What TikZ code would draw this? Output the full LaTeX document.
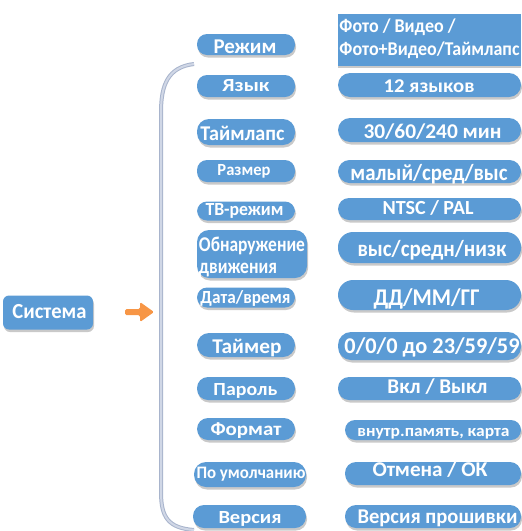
\documentclass[tikz,border=0pt]{standalone}
\usepackage{fontspec}
\usepackage{graphicx}
\setmainfont{Carlito}
\usetikzlibrary{shadows}
\definecolor{boxblue}{RGB}{91,155,213}
\definecolor{brkedge}{RGB}{168,180,204}
\definecolor{brk}{RGB}{208,215,230}
\definecolor{arr}{RGB}{247,150,70}
\newcommand\tw[3]{\hspace*{#1pt}\resizebox{#2pt}{\height}{#3}}
\tikzset{
  pill/.style={fill=boxblue, text=white, inner sep=0pt, align=center, rounded corners=10pt,
    text depth=0pt,
    drop shadow={shadow xshift=1pt, shadow yshift=-2.5pt, opacity=.3, fill=black!70}},
  fs/.style={font=\bfseries\fontsize{#1}{#1}\selectfont},
}
\begin{document}
\begin{tikzpicture}[x=1pt,y=-1pt]
\useasboundingbox (0,0) rectangle (522,531);
% bracket
\coordinate (bt) at (194,64);
\coordinate (bb) at (194,530);
\draw[brkedge, line width=4pt] (bt) .. controls (168,67) and (161,85) .. (161,112) -- (161,492) .. controls (161,517) and (168,528) .. (bb);
\draw[brk, line width=2pt] (bt) .. controls (168,67) and (161,85) .. (161,112) -- (161,492) .. controls (161,517) and (168,528) .. (bb);
% Система
\node[pill, fs=21.5, rounded corners=6pt, minimum width=90pt, minimum height=34pt, text height=11.6pt] (sys) at (48,312.5) {\tw{3}{74}{Система}};
% arrow
\fill[arr, rounded corners=1.5pt] (125,309) -- (140,309) -- (140,302) -- (154,312) -- (140,322) -- (140,315) -- (125,315) -- cycle;
% left column
\node[pill, fs=21, minimum width=98pt, minimum height=21pt, text height=17.6pt] (l1) at (246,44.5) {\tw{-2}{63}{Режим}};
\node[pill, fs=18.5, minimum width=98pt, minimum height=22pt, text height=11.4pt] (l2) at (246,86) {\tw{0}{47}{Язык}};
\node[pill, fs=21, rounded corners=12pt, minimum width=98pt, minimum height=26pt, text height=16pt] (l3) at (246,132) {\tw{-7}{84}{Таймлапс}};
\node[pill, fs=17, minimum width=98pt, minimum height=22pt, text height=8pt] (l4) at (246,171) {\tw{-4}{53}{Размер}};
\node[pill, fs=18.5, minimum width=98pt, minimum height=19pt, text height=8pt] (l5) at (246,211) {\tw{-3}{78}{ТВ-режим}};
\node[pill, font=\bfseries\fontsize{21}{21.6}\selectfont, align=left, rounded corners=12pt, minimum width=110pt, minimum height=48pt, text height=38.6pt] (l6) at (252,254) {\tw{0}{106}{Обнаружение}\\\tw{0}{78}{движения}};
\node[pill, fs=18.5, minimum width=98pt, minimum height=20pt, text height=11.6pt] (l7) at (246,297.5) {\tw{-1}{90}{Дата/время}};
\node[pill, fs=21, rounded corners=12pt, minimum width=98pt, minimum height=24pt, text height=16.6pt] (l8) at (246,345) {\tw{2}{69}{Таймер}};
\node[pill, fs=18.5, rounded corners=11pt, minimum width=98pt, minimum height=23pt, text height=13pt] (l9) at (246,388.5) {\tw{-1}{64}{Пароль}};
\node[pill, fs=19, rounded corners=11pt, minimum width=98pt, minimum height=22pt, text height=12pt] (l10) at (246,429) {\tw{0}{71}{Формат}};
\node[pill, fs=17.5, rounded corners=12pt, minimum width=112pt, minimum height=25pt, text height=7pt] (l11) at (250,474.5) {\tw{2}{109}{По умолчанию}};
\node[pill, fs=18.5, rounded corners=11pt, minimum width=113pt, minimum height=23pt, text height=13.6pt] (l12) at (249.5,516.5) {\tw{1}{63}{Версия}};
% right column
\node[fill=boxblue, text=white, inner sep=0pt, align=left, minimum width=183pt, minimum height=52pt, text height=30pt, text depth=0pt, font=\bfseries\fontsize{19.5}{22.7}\selectfont, drop shadow={shadow xshift=0pt, shadow yshift=-2pt, opacity=.3, fill=black!70}] (r1) at (429.5,40) {\tw{0}{116}{Фото / Видео /}\\\tw{0}{180}{Фото+Видео/Таймлапс}};
\node[pill, fs=19.5, rounded corners=12pt, minimum width=183pt, minimum height=24pt, text height=14.6pt] (r2) at (429.5,85) {\tw{-1}{91}{12 языков}};
\node[pill, fs=21, rounded corners=12pt, minimum width=183pt, minimum height=24pt, text height=16.6pt] (r3) at (429.5,130) {\tw{6}{138}{30/60/240 мин}};
\node[pill, fs=23, rounded corners=11.5pt, minimum width=183pt, minimum height=23pt, text height=17pt] (r4) at (429.5,171.5) {\tw{-1}{157}{малый/сред/выс}};
\node[pill, fs=20, rounded corners=11pt, minimum width=183pt, minimum height=22pt, text height=10.6pt] (r5) at (429.5,209) {\tw{-3}{91}{NTSC / PAL}};
\node[pill, fs=23, rounded corners=15pt, minimum width=183pt, minimum height=31pt, text height=18.4pt] (r6) at (429.5,247.5) {\tw{5}{149}{выс/средн/низк}};
\node[pill, fs=24, rounded corners=15pt, minimum width=183pt, minimum height=30pt, text height=20pt] (r7) at (429.5,295) {\tw{-6}{106}{ДД/ММ/ГГ}};
\node[pill, fs=22.5, rounded corners=13pt, minimum width=183pt, minimum height=28pt, text height=14.6pt] (r8) at (429.5,346) {\tw{5}{175}{0/0/0 до 23/59/59}};
\node[pill, fs=21, rounded corners=11pt, minimum width=183pt, minimum height=23pt, text height=9.6pt] (r9) at (429.5,388.5) {\tw{16}{100}{Вкл / Выкл}};
\node[pill, fs=16.5, rounded corners=10pt, minimum width=176pt, minimum height=20pt, text height=13.4pt] (r10) at (433,430) {\tw{1}{152}{внутр.память, карта}};
\node[pill, fs=21, rounded corners=11pt, minimum width=176pt, minimum height=23pt, text height=6.4pt] (r11) at (433,473.5) {\tw{-6}{115}{Отмена / ОК}};
\node[pill, fs=21, rounded corners=11pt, minimum width=176pt, minimum height=23pt, text height=13.6pt] (r12) at (433,516.5) {\tw{9}{160}{Версия прошивки}};
\end{tikzpicture}
\end{document}
